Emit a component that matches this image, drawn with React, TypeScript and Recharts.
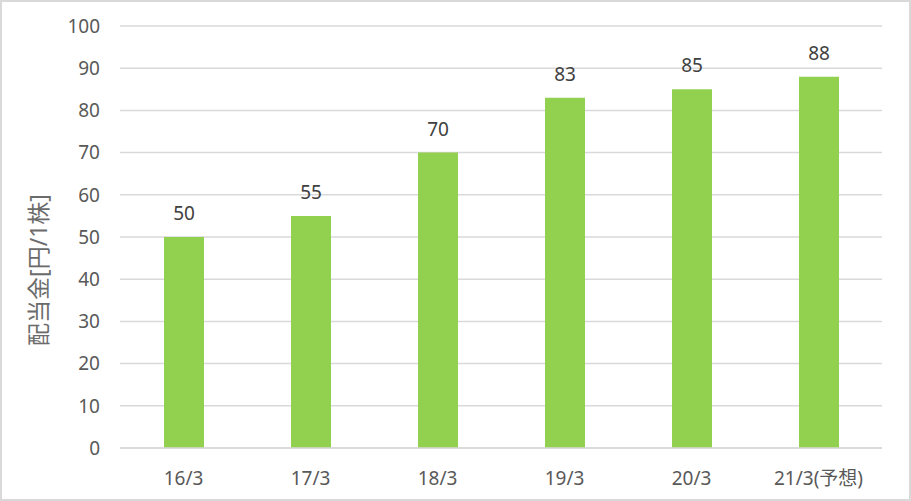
import { BarChart, Bar, XAxis, YAxis, CartesianGrid, LabelList } from "recharts";

const periods = ["16/3", "17/3", "18/3", "19/3", "20/3", "21/3(予想)"];
const dividends = [50, 55, 70, 83, 85, 88];
const yTicks = [0, 10, 20, 30, 40, 50, 60, 70, 80, 90, 100];

const FONT = "'Noto Sans', 'Noto Sans CJK JP', sans-serif";

export default function App() {
  const data = periods.map((p, i) => ({ period: p, value: dividends[i] }));

  return (
    <div style={{ position: "absolute", left: 0, top: 0, width: 911, height: 501, background: "#fff" }}>
      <BarChart
        width={911}
        height={501}
        data={data}
        margin={{ top: 26, right: 29, left: 0, bottom: 0 }}
        style={{ fontFamily: FONT }}
      >
        <CartesianGrid vertical={false} stroke="#d9d9d9" strokeWidth={1.5} />
        <XAxis
          dataKey="period"
          height={53}
          tickLine={false}
          axisLine={{ stroke: "#d9d9d9", strokeWidth: 1.5 }}
          tickMargin={18}
          tick={{ fill: "#595959", fontSize: 19 }}
          interval={0}
        />
        <YAxis
          width={120}
          domain={[0, 100]}
          ticks={yTicks}
          tickLine={false}
          axisLine={false}
          tickSize={0}
          tickMargin={20}
          tick={{ fill: "#595959", fontSize: 19 }}
          label={{
            content: () => (
              <text
                transform="translate(38,270) rotate(-90)"
                textAnchor="middle"
                dominantBaseline="central"
                fill="#6b6b6b"
                fontSize={23}
                fontFamily={FONT}
              >
                配当金[円/1株]
              </text>
            ),
          }}
        />
        <Bar dataKey="value" fill="#92d050" barSize={40} isAnimationActive={false}>
          <LabelList dataKey="value" position="top" offset={17} fill="#404040" fontSize={19} />
        </Bar>
      </BarChart>
      <div
        style={{
          position: "absolute",
          left: 0,
          top: 0,
          width: 911,
          height: 501,
          boxSizing: "border-box",
          border: "2px solid #d9d9d9",
          pointerEvents: "none",
        }}
      />
    </div>
  );
}
